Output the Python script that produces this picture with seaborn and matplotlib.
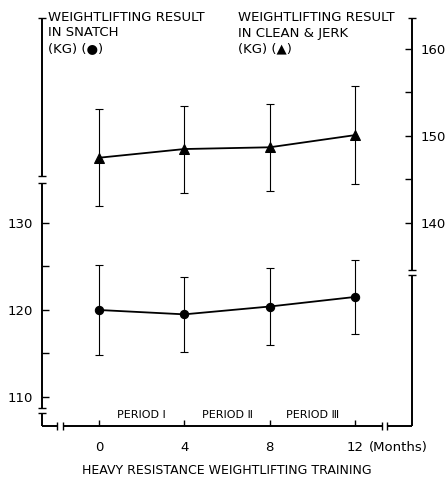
import matplotlib
matplotlib.use("Agg")
import matplotlib.pyplot as plt
import pandas as pd
import seaborn as sns

# Training time points (months) and group results (mean, SD)
months = [0, 4, 8, 12]
month_labels = ["0", "4", "8", "12"]
snatch_mean = [120.0, 119.5, 120.4, 121.5]
snatch_sd = [5.2, 4.3, 4.4, 4.3]
cj_mean = [147.5, 148.5, 148.7, 150.1]
cj_sd = [5.6, 5.0, 5.0, 5.6]

period_labels = ["PERIOD Ⅰ", "PERIOD Ⅱ", "PERIOD Ⅲ"]
period_centers = [2, 6, 10]

left_ticks = [110, 120, 130]
left_minor = [115, 125]
right_ticks = [140, 150, 160]
right_minor = [145, 155]

sns.set_style("white")
plt.rcParams["font.family"] = ["DejaVu Sans"]
plt.rcParams.update({"text.color": "black", "axes.labelcolor": "black",
                     "xtick.color": "black", "ytick.color": "black"})

df = pd.DataFrame({"month": months, "snatch": snatch_mean, "cj": cj_mean})

fig = plt.figure(figsize=(4.45, 4.79), dpi=100)
ax = fig.add_axes([42 / 445, 53 / 479, 370 / 445, 408 / 479])
ax2 = ax.twinx()

ax.set_xlim(-2.672, 14.67)
ax.set_ylim(106.667, 153.56)
ax2.set_ylim(116.667, 163.56)

# Snatch (circles, left scale)
ax.errorbar(months, snatch_mean, yerr=snatch_sd, fmt="none", ecolor="black",
            elinewidth=0.8, capsize=3, capthick=0.8)
sns.lineplot(data=df, x="month", y="snatch", ax=ax, color="black", marker="o",
             markersize=6, linewidth=1.3, markeredgecolor="black")

# Clean & jerk (triangles, right scale)
ax2.errorbar(months, cj_mean, yerr=cj_sd, fmt="none", ecolor="black",
             elinewidth=0.8, capsize=3, capthick=0.8)
sns.lineplot(data=df, x="month", y="cj", ax=ax2, color="black", marker="^",
             markersize=7, linewidth=1.3, markeredgecolor="black")

for a in (ax, ax2):
    for s in a.spines.values():
        s.set_visible(False)
    a.set_ylabel("")
ax.set_xlabel("")

# Ticks
ax.set_xticks(months)
ax.set_xticklabels(month_labels)
ax.tick_params(axis="x", direction="in", length=4, width=1, pad=11, labelsize=9.5,
               bottom=True, colors="black")
ax.set_yticks(left_ticks)
ax.set_yticks(left_minor, minor=True)
ax.tick_params(axis="y", which="both", direction="in", length=5, width=1, pad=6.5,
               labelsize=9.5, left=True, right=False, colors="black")
ax2.set_yticks(right_ticks)
ax2.set_yticks(right_minor, minor=True)
ax2.tick_params(axis="y", which="both", direction="in", length=5, width=1, pad=6.5,
                labelsize=9.5, right=True, left=False, colors="black")

ax.annotate("(Months)", xy=(12, 0), xycoords=("data", "axes fraction"),
            xytext=(10, -15.5), textcoords="offset points", ha="left", va="center",
            fontsize=9.5, color="black")
ax.set_xlabel("HEAVY RESISTANCE WEIGHTLIFTING TRAINING", fontsize=9, labelpad=7,
              color="black")

# Period annotations along the time axis
xform = ax.get_xaxis_transform()
for c, lab in zip(period_centers, period_labels):
    ax.text(c, 0.026, lab, transform=xform, ha="center", va="center", fontsize=8,
            color="black")

# Broken axis frame drawn in axes fractions
lw = 1.4
hx = 4 / 370
hy = 4 / 408
T = ax.transAxes


def seg(x0, y0, x1, y1, w=lw):
    ax.plot([x0, x1], [y0, y1], color="black", lw=w, transform=T, clip_on=False,
            solid_capstyle="butt")


def fy(px):
    return (426 - px) / 408


def fx(px):
    return (px - 42) / 370


# left axis: upper piece, lower piece, corner piece
seg(0, 1, 0, fy(176))
for y in (1, fy(176), fy(183), fy(408), fy(413)):
    seg(-hx, y, hx, y, 1.0)
seg(0, fy(183), 0, fy(408))
seg(0, fy(413), 0, 0)
# bottom axis with breaks near both ends
seg(0, 0, fx(57), 0)
seg(fx(63), 0, fx(382), 0)
seg(fx(387), 0, 1, 0)
for x in (fx(57), fx(63), fx(382), fx(387)):
    seg(x, -hy, x, hy, 1.0)
# right axis: lower piece, upper piece
seg(1, 0, 1, fy(275))
seg(1, fy(270), 1, 1)
for y in (fy(275), fy(270), 1):
    seg(1 - hx, y, 1 + hx, y, 1.0)

fig.text(48 / 445, 1 - 11 / 479, "WEIGHTLIFTING RESULT\nIN SNATCH\n(KG) (●)",
         ha="left", va="top", fontsize=9.5, linespacing=1.25, color="black")
fig.text(238 / 445, 1 - 11 / 479, "WEIGHTLIFTING RESULT\nIN CLEAN & JERK\n(KG) (▲)",
         ha="left", va="top", fontsize=9.5, linespacing=1.25, color="black")

fig.savefig("out.png", dpi=100)
